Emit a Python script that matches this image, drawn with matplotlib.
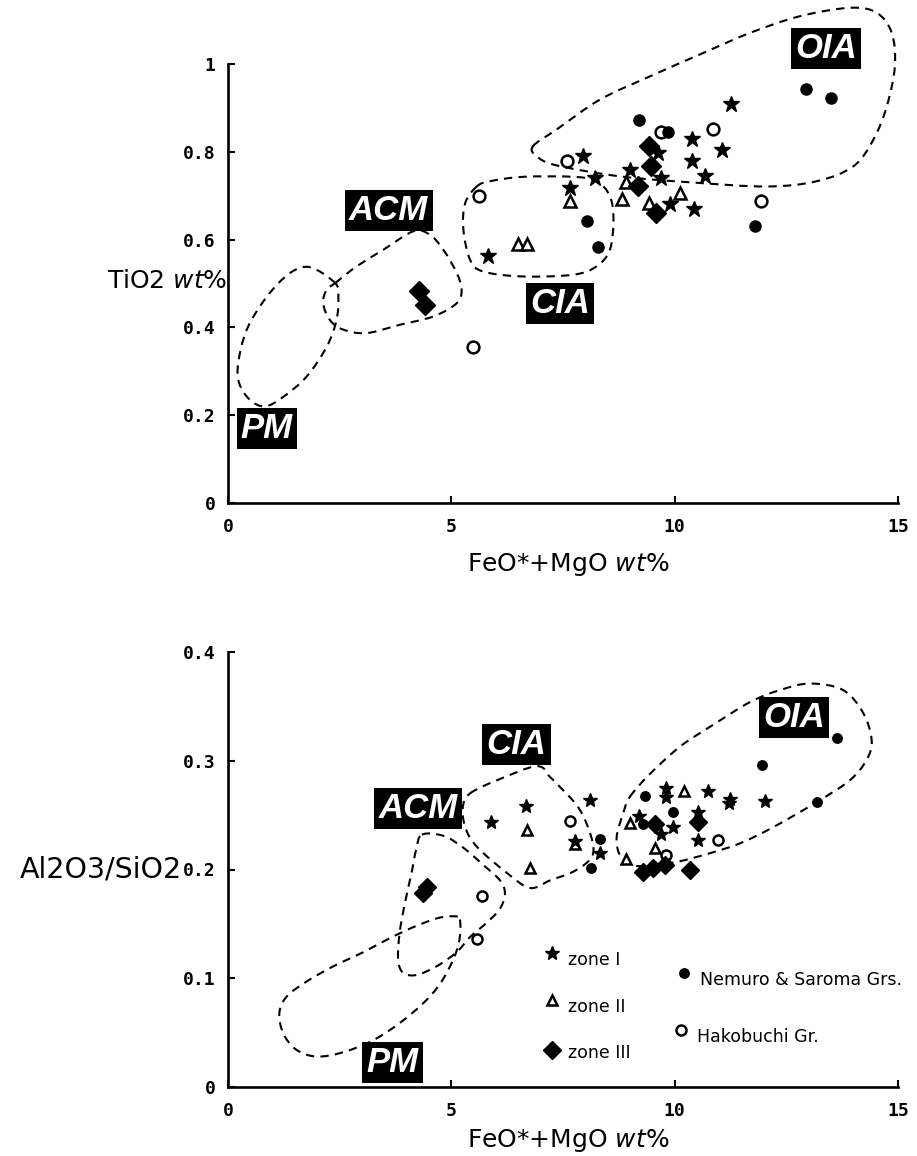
"""
FeO*+MgO vs TiO2 and Al2O3/SiO2 tectonic-setting discrimination diagrams.
"""

import matplotlib
matplotlib.use("Agg")
import matplotlib.pyplot as plt
import numpy as np
from matplotlib.path import Path
from matplotlib.patches import PathPatch

plt.rcParams["mathtext.fontset"] = "dejavusans"

# ---------------- data: upper diagram (TiO2) ----------------
top_star_x = [11.26, 7.95, 8.22, 7.66, 10.39, 11.07, 10.39, 10.68, 9.62, 9.69, 9.00, 9.89, 10.43, 5.82]
top_star_y = [0.908, 0.791, 0.740, 0.718, 0.829, 0.803, 0.778, 0.746, 0.797, 0.740, 0.759, 0.680, 0.670, 0.563]
top_tri_x = [7.66, 6.49, 6.69, 8.81, 8.90, 9.43, 10.12]
top_tri_y = [0.687, 0.590, 0.590, 0.693, 0.731, 0.683, 0.706]
top_dia_x = [4.28, 4.41, 9.43, 9.48, 9.19, 9.58]
top_dia_y = [0.482, 0.452, 0.814, 0.767, 0.723, 0.660]
top_fill_x = [12.95, 13.49, 9.20, 9.86, 8.03, 8.29, 11.80]
top_fill_y = [0.943, 0.923, 0.873, 0.845, 0.643, 0.583, 0.632]
top_open_x = [9.70, 10.86, 7.58, 5.63, 11.93, 5.48]
top_open_y = [0.845, 0.852, 0.779, 0.699, 0.687, 0.356]

# field outlines (upper)
top_oia_x = [6.83, 7.36, 8.33, 9.45, 10.57, 11.69, 12.81, 13.92, 14.52, 14.86, 14.93, 14.75,
             14.45, 14.00, 13.18, 12.06, 10.42, 8.78, 7.36, 6.91]
top_oia_y = [0.813, 0.851, 0.919, 0.972, 1.022, 1.071, 1.109, 1.128, 1.117, 1.071, 0.995, 0.904,
             0.828, 0.767, 0.733, 0.721, 0.730, 0.744, 0.769, 0.790]
top_cia_x = [5.57, 5.31, 5.27, 5.42, 5.72, 6.61, 7.73, 8.25, 8.55, 8.63, 8.55, 8.25, 7.73, 6.61, 5.87]
top_cia_y = [0.721, 0.683, 0.623, 0.554, 0.527, 0.516, 0.520, 0.539, 0.577, 0.645, 0.699, 0.733,
             0.743, 0.743, 0.733]
top_acm_x = [2.40, 2.88, 3.48, 4.15, 4.52, 4.82, 5.12, 5.23, 5.12, 4.60, 3.85, 3.10, 2.58, 2.28, 2.13, 2.21]
top_acm_y = [0.501, 0.539, 0.577, 0.619, 0.611, 0.577, 0.524, 0.486, 0.455, 0.425, 0.406, 0.387,
             0.395, 0.417, 0.455, 0.486]
top_pm_x = [2.40, 1.84, 1.39, 0.87, 0.42, 0.23, 0.25, 0.49, 0.83, 1.24, 1.76, 2.21, 2.43, 2.47]
top_pm_y = [0.501, 0.537, 0.524, 0.470, 0.395, 0.319, 0.273, 0.235, 0.220, 0.242, 0.288, 0.356,
            0.417, 0.470]

# ---------------- data: lower diagram (Al2O3/SiO2) ----------------
bot_star_x = [5.89, 6.67, 8.10, 7.77, 8.33, 9.21, 9.80, 9.80, 10.75, 11.24, 11.22, 12.03, 9.97, 9.69,
              10.53, 10.53]
bot_star_y = [0.244, 0.258, 0.264, 0.226, 0.215, 0.249, 0.275, 0.267, 0.272, 0.265, 0.261, 0.263,
              0.239, 0.233, 0.253, 0.227]
bot_tri_x = [6.69, 6.76, 7.77, 9.00, 8.91, 9.56, 10.21]
bot_tri_y = [0.236, 0.201, 0.223, 0.243, 0.210, 0.220, 0.272]
bot_dia_x = [4.45, 4.37, 9.56, 10.53, 9.30, 9.52, 9.78, 10.34]
bot_dia_y = [0.184, 0.178, 0.242, 0.244, 0.198, 0.201, 0.204, 0.200]
bot_fill_x = [8.13, 8.33, 9.34, 9.28, 9.97, 11.95, 13.64, 13.18]
bot_fill_y = [0.201, 0.228, 0.268, 0.242, 0.253, 0.296, 0.321, 0.262]
bot_open_x = [7.66, 5.69, 5.58, 9.81, 10.98]
bot_open_y = [0.245, 0.176, 0.136, 0.213, 0.227]

# field outlines (lower)
bot_oia_x = [9.00, 9.45, 10.12, 10.86, 11.69, 12.36, 13.03, 13.77, 14.22, 14.41, 14.30, 13.92, 13.18,
             12.21, 11.46, 10.79, 10.04, 9.22, 8.81, 8.70, 8.85]
bot_oia_y = [0.267, 0.288, 0.313, 0.333, 0.354, 0.365, 0.371, 0.365, 0.344, 0.319, 0.301, 0.282, 0.262,
             0.239, 0.224, 0.215, 0.207, 0.203, 0.211, 0.229, 0.252]
bot_cia_x = [5.42, 6.02, 6.91, 7.21, 7.43, 7.81, 8.03, 8.18, 8.10, 7.73, 7.21, 6.76, 6.24, 5.57, 5.31, 5.26]
bot_cia_y = [0.270, 0.282, 0.295, 0.285, 0.276, 0.259, 0.242, 0.221, 0.209, 0.198, 0.190, 0.183, 0.197,
             0.221, 0.239, 0.258]
bot_acm_x = [4.34, 4.82, 5.27, 5.72, 6.09, 6.20, 6.09, 5.79, 5.42, 5.12, 4.67, 4.22, 3.92, 3.81, 3.84,
             3.96, 4.11, 4.21]
bot_acm_y = [0.232, 0.231, 0.220, 0.204, 0.190, 0.178, 0.164, 0.151, 0.138, 0.124, 0.111, 0.103, 0.105,
             0.117, 0.141, 0.169, 0.197, 0.218]
bot_pm_x = [5.19, 5.18, 5.04, 4.75, 4.37, 3.85, 3.25, 2.58, 1.99, 1.54, 1.24, 1.15, 1.31, 1.76, 2.36,
            3.03, 3.63, 4.15, 4.67, 5.04]
bot_pm_y = [0.154, 0.135, 0.117, 0.095, 0.077, 0.059, 0.043, 0.032, 0.028, 0.034, 0.049, 0.068, 0.083,
            0.097, 0.111, 0.124, 0.137, 0.147, 0.155, 0.157]

x_ticks = [0, 5, 10, 15]
x_ticklabels = ["0", "5", "10", "15"]
top_y_ticks = [0, 0.2, 0.4, 0.6, 0.8, 1.0]
top_y_ticklabels = ["0", "0.2", "0.4", "0.6", "0.8", "1"]
bot_y_ticks = [0, 0.1, 0.2, 0.3, 0.4]
bot_y_ticklabels = ["0", "0.1", "0.2", "0.3", "0.4"]

legend_labels = ["zone I", "zone II", "zone III", "Nemuro & Saroma Grs.", "Hakobuchi Gr."]

W, H = 917, 1156
LABEL_FONT = ["Liberation Sans Narrow", "Liberation Sans", "DejaVu Sans"]
TICK_FONT = dict(family="DejaVu Sans Mono", weight="bold", size=13)


def field(ax, xs, ys):
    """Closed smooth dashed outline through the given vertices (Catmull-Rom -> Bezier)."""
    p = np.column_stack([xs, ys])
    n = len(p)
    verts = [p[0]]
    codes = [Path.MOVETO]
    for i in range(n):
        p0, p1, p2, p3 = p[i - 1], p[i], p[(i + 1) % n], p[(i + 2) % n]
        verts += [p1 + (p2 - p0) / 6.0, p2 - (p3 - p1) / 6.0, p2]
        codes += [Path.CURVE4] * 3
    patch = PathPatch(Path(verts, codes), fill=False, ec="black", lw=1.5,
                      ls=(0, (4, 3)), clip_on=False, zorder=2)
    ax.add_patch(patch)


def field_label(ax, x, y, text):
    ax.text(x, y, text, ha="center", va="center", color="white", fontsize=25,
            fontweight="bold", fontstyle="italic", family=LABEL_FONT,
            bbox=dict(boxstyle="square,pad=0.12", fc="black", ec="none"), zorder=5)


def style_axes(ax, yticks, yticklabels, ymax):
    ax.set_xlim(0, 15)
    ax.set_ylim(0, ymax)
    for side in ("top", "right"):
        ax.spines[side].set_visible(False)
    for side in ("left", "bottom"):
        ax.spines[side].set_linewidth(1.9)
    ax.set_xticks(x_ticks, x_ticklabels, fontdict=TICK_FONT)
    ax.set_yticks(yticks, yticklabels, fontdict=TICK_FONT)
    ax.tick_params(direction="in", length=5, width=1.5, pad=9)
    ax.tick_params(axis="x", pad=11)
    ax.patch.set_visible(False)


def styles(scale=1.0):
    return dict(
        star=dict(marker="*", ls="none", color="black", ms=12 * scale, zorder=4),
        tri=dict(marker="^", ls="none", mfc="white", mec="black", mew=1.8, ms=8 * scale, zorder=4),
        dia=dict(marker="D", ls="none", color="black", ms=10.5 * scale, zorder=4),
        fill=dict(marker="o", ls="none", color="black", ms=8 * scale, zorder=4),
        opn=dict(marker="o", ls="none", mfc="white", mec="black", mew=1.8, ms=8.5 * scale, zorder=4),
    )


fig = plt.figure(figsize=(W / 100, H / 100), dpi=100)
ax1 = fig.add_axes([228 / W, 1 - 503 / H, 670 / W, 439 / H])
ax2 = fig.add_axes([228 / W, 1 - 1087 / H, 670 / W, 435 / H])

# ---- upper diagram ----
style_axes(ax1, top_y_ticks, top_y_ticklabels, 1.0)
for fx, fy in [(top_oia_x, top_oia_y), (top_cia_x, top_cia_y),
               (top_acm_x, top_acm_y), (top_pm_x, top_pm_y)]:
    field(ax1, fx, fy)
st = styles()
ax1.plot(top_tri_x, top_tri_y, **st["tri"])
ax1.plot(top_open_x, top_open_y, **st["opn"])
ax1.plot(top_fill_x, top_fill_y, **st["fill"])
ax1.plot(top_star_x, top_star_y, **st["star"])
ax1.plot(top_dia_x, top_dia_y, **st["dia"])
field_label(ax1, 13.39, 1.036, "OIA")
field_label(ax1, 3.60, 0.667, "ACM")
field_label(ax1, 7.43, 0.454, "CIA")
field_label(ax1, 0.87, 0.170, "PM")

# ---- lower diagram ----
style_axes(ax2, bot_y_ticks, bot_y_ticklabels, 0.4)
for fx, fy in [(bot_oia_x, bot_oia_y), (bot_cia_x, bot_cia_y),
               (bot_acm_x, bot_acm_y), (bot_pm_x, bot_pm_y)]:
    field(ax2, fx, fy)
sb = styles(0.85)
ax2.plot(bot_tri_x, bot_tri_y, **sb["tri"])
ax2.plot(bot_open_x, bot_open_y, **sb["opn"])
ax2.plot(bot_fill_x, bot_fill_y, **sb["fill"])
ax2.plot(bot_star_x, bot_star_y, **sb["star"])
ax2.plot(bot_dia_x, bot_dia_y, **sb["dia"])
field_label(ax2, 12.67, 0.340, "OIA")
field_label(ax2, 6.46, 0.315, "CIA")
field_label(ax2, 4.26, 0.256, "ACM")
field_label(ax2, 3.68, 0.0225, "PM")

# legend drawn by hand (staggered two-column layout)
leg_keys = ["star", "tri", "dia", "fill", "opn"]
leg_mark = [(0.483, 0.307), (0.483, 0.200), (0.483, 0.085), (0.681, 0.263), (0.676, 0.131)]
leg_text = [(0.508, 0.292), (0.508, 0.184), (0.508, 0.078), (0.705, 0.246), (0.700, 0.115)]
for key, (mx, my), (tx, ty), lab in zip(leg_keys, leg_mark, leg_text, legend_labels):
    ax2.plot([mx], [my], transform=ax2.transAxes, clip_on=False, **sb[key])
    ax2.text(tx, ty, lab, transform=ax2.transAxes, fontsize=12.5, family="DejaVu Sans",
             ha="left", va="center")

# axis titles (upright oxide + italic unit)
AX_FONT = dict(family="DejaVu Sans", size=18)
fig.text(227 / W, 1 - 281 / H, r"TiO2 $\mathit{wt\%}$", ha="right", va="center", **AX_FONT)
fig.text(182 / W, 1 - 870 / H, "Al2O3/SiO2", ha="right", va="center",
         family="DejaVu Sans", size=20.5)
for py in (565, 1140):
    fig.text(568 / W, 1 - py / H, r"FeO*+MgO $\mathit{wt\%}$", ha="center", va="center", **AX_FONT)

fig.savefig("out.png", dpi=100)
plt.close(fig)
